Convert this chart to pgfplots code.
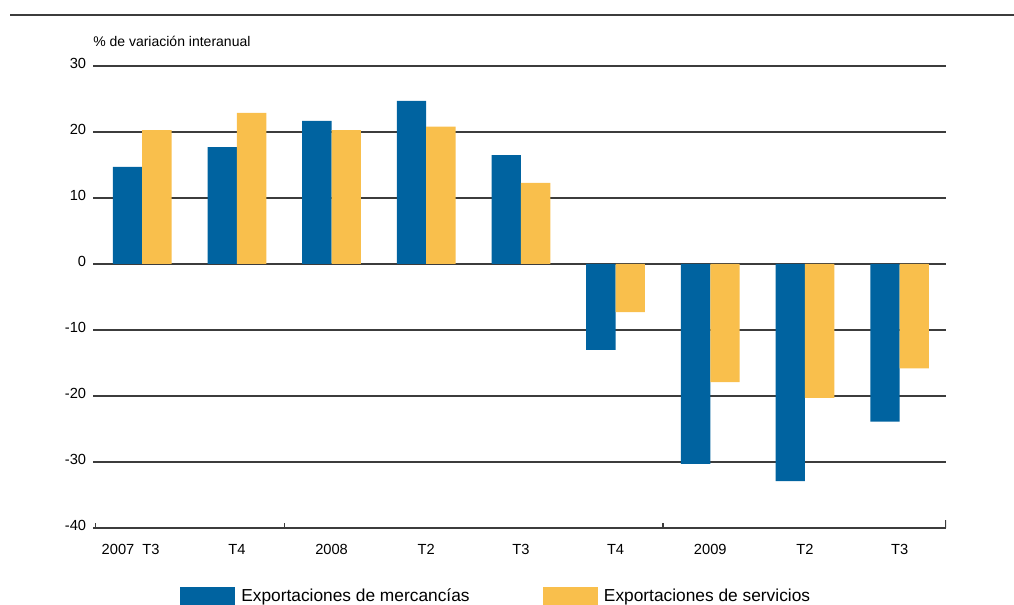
\documentclass[border=0pt]{standalone}
\usepackage{pgfplots}
\pgfplotsset{compat=1.18}
\usepackage{fontspec}
\setmainfont{Liberation Sans}
\definecolor{cblue}{RGB}{0,99,160}
\definecolor{cyel}{RGB}{249,191,76}
\definecolor{cgrid}{RGB}{60,60,60}
\begin{document}
\begin{tikzpicture}
\useasboundingbox (0pt,0pt) rectangle (760.5pt,453.75pt);
\draw[cgrid, line width=1.5pt] (7.5pt,442.5pt) -- (760.5pt,442.5pt);
\node[anchor=base west, inner sep=0, font=\fontsize{10.5}{12}\selectfont] at (69.75pt,419pt) {\% de variación interanual};
\begin{axis}[
  at={(69.75pt,57.75pt)}, anchor=south west,
  scale only axis, width=639.75pt, height=346.5pt,
  xmin=-0.52, xmax=8.49, ymin=-40, ymax=30,
  axis line style={draw=none},
  major tick length=0pt,
  ytick={-40,-30,...,30},
  ymajorgrids, grid style={cgrid, line width=0.9pt},
  xtick={0,...,8},
  xticklabels={{\hspace{13pt}\makebox[0pt][r]{2007\hspace{6pt}}T3},T4,2008,T2,T3,T4,2009,T2,T3},
  xticklabel style={anchor=north, inner sep=0pt, yshift=-12pt, font=\fontsize{11}{13}\selectfont},
  yticklabel style={anchor=east, inner sep=0pt, xshift=-5pt, yshift=2pt, font=\fontsize{11}{13}\selectfont},
  /pgf/number format/assume math mode=true,
  ybar=0pt, bar width=0.31,
  legend style={at={(0.102,-0.147)}, anchor=west, draw=none, fill=none, inner sep=0pt,
    legend columns=2, font=\fontsize{13}{15}\selectfont,
    /tikz/every even column/.append style={column sep=53pt}},
  legend image code/.code={\fill[#1] (0pt,-6.75pt) rectangle (41.25pt,6.75pt); \path (43.75pt,0pt);},
]
\addplot[fill=cblue, draw=none] coordinates {(0,14.7) (1,17.7) (2,21.7) (3,24.7) (4,16.5) (5,-13.0) (6,-30.3) (7,-32.9) (8,-23.9)};
\addplot[fill=cyel, draw=none] coordinates {(0,20.3) (1,22.9) (2,20.3) (3,20.8) (4,12.3) (5,-7.3) (6,-17.9) (7,-20.3) (8,-15.8)};
\legend{Exportaciones de mercancías, Exportaciones de servicios}
\draw[cgrid, line width=0.9pt] (axis cs:-0.496,-40) -- ([yshift=4pt]axis cs:-0.496,-40);
\draw[cgrid, line width=0.9pt] (axis cs:1.5,-40) -- ([yshift=4pt]axis cs:1.5,-40);
\draw[cgrid, line width=0.9pt] (axis cs:5.5,-40) -- ([yshift=4pt]axis cs:5.5,-40);
\draw[cgrid, line width=0.9pt] (axis cs:8.49,-40) -- ([yshift=6pt]axis cs:8.49,-40);
\end{axis}
\end{tikzpicture}
\end{document}
